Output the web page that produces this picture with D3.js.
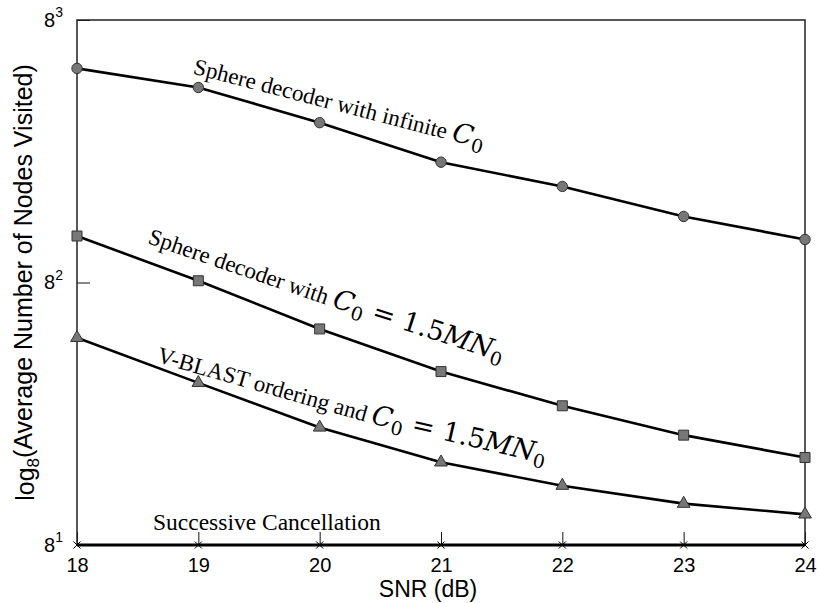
<!DOCTYPE html>
<html>
<head>
<meta charset="utf-8">
<script src="https://cdn.jsdelivr.net/npm/d3@7"></script>
<style>
  body { margin: 0; background: #fff; }
  text { white-space: pre; }
</style>
</head>
<body>
<div id="chart"></div>
<script>
// chart values
var snr = [18, 19, 20, 21, 22, 23, 24];
var infiniteC0 = [349, 300, 227, 166, 137, 108, 90];
var fixedC0 = [92.5, 64.9, 44.3, 31.6, 24.1, 19.1, 16.0];
var vblastC0 = [41.3, 28.9, 20.3, 15.4, 12.8, 11.1, 10.2];
var successive = [8, 8, 8, 8, 8, 8, 8];
var yTickExponents = [1, 2, 3];

var width = 817;
var height = 603;
var sans = "'Liberation Sans', Arial, Helvetica, sans-serif";
var serif = "'Liberation Serif', 'Times New Roman', serif";
var mathFont = "'DejaVu Serif', serif";

var x = d3.scaleLinear().domain([18, 24]).range([77, 805]);
var y = d3.scaleLog().base(8).domain([8, 512]).range([545, 20]);

var svg = d3.select("#chart")
    .append("svg")
    .attr("width", width)
    .attr("height", height);

// x axis (ticks point up into the plot)
var xAxis = svg.append("g")
    .attr("transform", "translate(0," + y(8) + ")")
    .call(d3.axisBottom(x).tickValues(snr).tickFormat(d3.format("d"))
        .tickSizeInner(-13).tickSizeOuter(0).tickPadding(13));
xAxis.select(".domain").remove();
xAxis.selectAll("line").attr("stroke", "#111").attr("stroke-width", 1);
xAxis.selectAll("text").attr("font-family", sans).attr("font-size", 20).attr("fill", "#000");

// y axis, base-8 powers
var yAxis = svg.append("g")
    .attr("transform", "translate(" + x(18) + ",0)")
    .call(d3.axisLeft(y)
        .tickValues(yTickExponents.map(function (e) { return Math.pow(8, e); }))
        .tickSizeInner(-13).tickSizeOuter(0).tickPadding(14));
yAxis.select(".domain").remove();
yAxis.selectAll("line").attr("stroke", "#111").attr("stroke-width", 1);
yAxis.selectAll("text")
    .attr("font-family", sans).attr("font-size", 20).attr("fill", "#000")
    .text(null)
    .each(function (d, i) {
        var t = d3.select(this);
        t.append("tspan").text("8");
        t.append("tspan").attr("font-size", 14).attr("dy", "-0.7em").text(yTickExponents[i]);
    });

// plot frame
svg.append("rect")
    .attr("x", x(18)).attr("y", y(512))
    .attr("width", x(24) - x(18)).attr("height", y(8) - y(512))
    .attr("fill", "none").attr("stroke", "#222").attr("stroke-width", 1.5);

var line = d3.line()
    .x(function (d, i) { return x(snr[i]); })
    .y(function (d) { return y(d); });

// successive cancellation sits on the floor
svg.append("path").datum(successive)
    .attr("d", line).attr("fill", "none").attr("stroke", "#000").attr("stroke-width", 3);
svg.selectAll(".xmark").data(successive).enter().append("path")
    .attr("class", "xmark")
    .attr("d", "M-3.5,-3.5L3.5,3.5M-3.5,3.5L3.5,-3.5")
    .attr("transform", function (d, i) { return "translate(" + x(snr[i]) + "," + y(d) + ")"; })
    .attr("fill", "none").attr("stroke", "#000").attr("stroke-width", 1);

var series = [
    { values: infiniteC0, symbol: d3.symbolCircle, size: 85 },
    { values: fixedC0, symbol: d3.symbolSquare, size: 100 },
    { values: vblastC0, symbol: d3.symbolTriangle, size: 70 }
];

series.forEach(function (s) {
    svg.append("path").datum(s.values)
        .attr("d", line).attr("fill", "none").attr("stroke", "#000").attr("stroke-width", 2.6);
    svg.selectAll(null).data(s.values).enter().append("path")
        .attr("d", d3.symbol(s.symbol, s.size))
        .attr("transform", function (d, i) { return "translate(" + x(snr[i]) + "," + y(d) + ")"; })
        .attr("fill", "#777").attr("stroke", "#333").attr("stroke-width", 1);
});

// axis titles
svg.append("text")
    .attr("x", 428).attr("y", 597)
    .attr("text-anchor", "middle")
    .attr("font-family", sans).attr("font-size", 23)
    .text("SNR (dB)");

var yTitle = svg.append("text")
    .attr("transform", "translate(34," + ((y(8) + y(512)) / 2) + ") rotate(-90)")
    .attr("text-anchor", "middle")
    .attr("font-family", sans).attr("font-size", 25);
yTitle.append("tspan").text("log");
yTitle.append("tspan").attr("font-size", 17).attr("dy", "0.3em").text("8");
yTitle.append("tspan").attr("dy", "-0.3em").text("(Average Number of Nodes Visited)");

// curve annotations: plain words, then the C0 expression
function mathText(sel, parts) {
    parts.forEach(function (p) {
        var ts = sel.append("tspan").text(p.t);
        if (p.it) ts.attr("font-style", "italic");
        if (p.sub) ts.attr("font-size", "0.7em").attr("dy", "0.3em");
        if (p.up) ts.attr("dy", "-0.21em");
    });
}

function addLabel(px, py, angle, words, mathAngle, parts) {
    var t = svg.append("text")
        .attr("transform", "translate(" + px + "," + py + ") rotate(" + angle + ")")
        .attr("font-family", serif).attr("font-size", 23)
        .text(words);
    var len = t.node().getComputedTextLength();
    var r = angle * Math.PI / 180;
    var m = svg.append("text")
        .attr("transform", "translate(" + (px + len * Math.cos(r)) + "," + (py + len * Math.sin(r)) + ") rotate(" + mathAngle + ")")
        .attr("font-family", mathFont).attr("font-size", 27);
    mathText(m, parts);
}

var c0 = [{ t: "C", it: true }, { t: "0", sub: true }];
var c0eq = [{ t: "C", it: true }, { t: "0", sub: true }, { t: " = 1.5", up: true }, { t: "MN", it: true }, { t: "0", sub: true }];

addLabel(x(19) - 6, y(infiniteC0[1]) - 14, 14.5, "Sphere decoder with infinite ", 14.5, c0);
addLabel(x(18) + 70, y(fixedC0[0]) + 7, 19, "Sphere decoder with ", 18, c0eq);
addLabel(x(18) + 79, y(vblastC0[0]) + 24, 16, "V-BLAST ordering and ", 13, c0eq);

svg.append("text")
    .attr("x", 153).attr("y", 530)
    .attr("font-family", serif).attr("font-size", 23.5)
    .text("Successive Cancellation");
</script>
</body>
</html>
